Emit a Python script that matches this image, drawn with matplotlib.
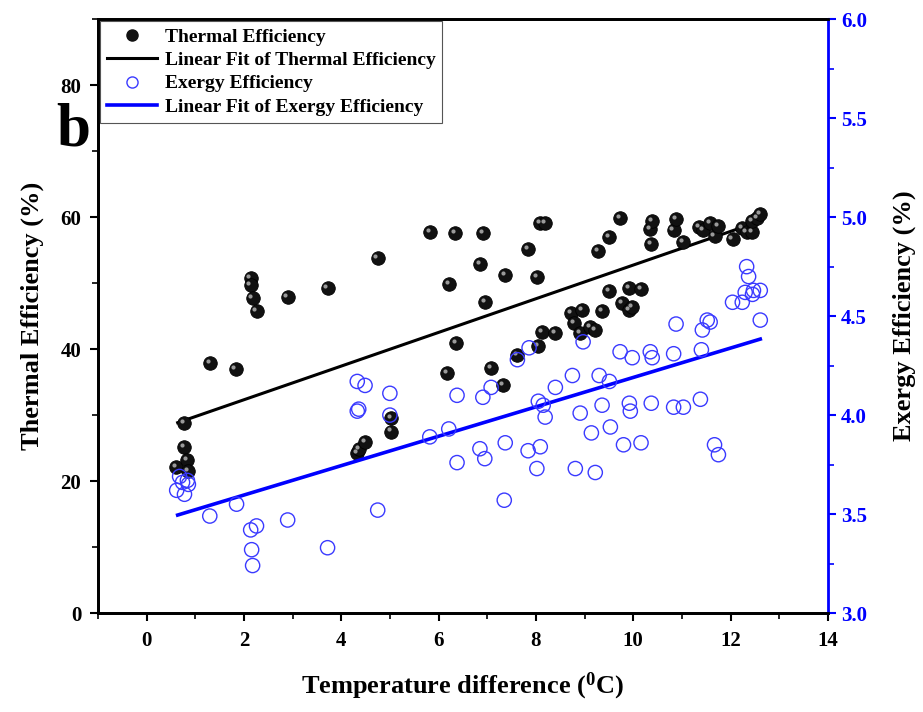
import matplotlib
matplotlib.use("Agg")
import matplotlib.pyplot as plt
from matplotlib.lines import Line2D
from matplotlib import transforms
from matplotlib.ticker import MultipleLocator

plt.rcParams['font.family'] = ['Liberation Serif', 'DejaVu Serif']
plt.rcParams['font.weight'] = 'bold'
plt.rcParams['mathtext.fontset'] = 'custom'
plt.rcParams['mathtext.rm'] = 'Liberation Serif:bold'
plt.rcParams['mathtext.bf'] = 'Liberation Serif:bold'
plt.rcParams['mathtext.default'] = 'bf'

# thermal efficiency (%) vs temperature difference
thermal_dt = [0.61, 0.78, 0.78, 0.84, 0.86, 1.30, 1.83, 2.14, 2.14, 2.18, 2.26, 2.90,
              3.72, 4.33, 4.36, 4.49, 4.75, 5.02, 5.02, 5.82, 6.17, 6.21, 6.34, 6.36,
              6.85, 6.91, 6.95, 7.08, 7.33, 7.37, 7.62, 7.84, 8.02, 8.05, 8.09, 8.13,
              8.19, 8.40, 8.73, 8.79, 8.91, 8.95, 9.12, 9.22, 9.28, 9.36, 9.51, 9.51,
              9.73, 9.77, 9.92, 9.92, 9.98, 10.16, 10.35, 10.37, 10.39, 10.83, 10.88,
              11.03, 11.36, 11.44, 11.58, 11.67, 11.75, 12.04, 12.24, 12.33, 12.45,
              12.45, 12.55, 12.61]
thermal_eff = [22.1, 28.8, 25.2, 23.2, 21.5, 37.9, 37.0, 50.8, 49.7, 47.7, 45.8, 47.9,
               49.2, 24.2, 24.8, 25.9, 53.8, 29.5, 27.5, 57.7, 36.4, 49.8, 57.6, 40.9,
               52.9, 57.6, 47.1, 37.1, 34.6, 51.2, 39.1, 55.2, 50.9, 40.5, 59.1, 42.6,
               59.1, 42.4, 45.5, 43.9, 42.4, 45.9, 43.3, 42.9, 54.8, 45.8, 48.8, 57.0,
               59.8, 47.0, 49.2, 45.9, 46.4, 49.1, 58.2, 55.9, 59.4, 58.0, 59.7,
               56.2, 58.5, 58.0, 59.1, 57.1, 58.6, 56.7, 58.3, 57.7, 57.7,
               59.4, 59.8, 60.5]

# exergy efficiency (%) vs temperature difference
exergy_dt = [0.68, 0.84, 0.74, 0.62, 0.86, 0.78, 1.30, 1.85, 2.14, 2.26, 2.16, 2.18,
             2.90, 3.72, 4.33, 4.49, 4.33, 4.36, 4.75, 5.00, 5.00, 5.82, 6.21, 6.38,
             6.38, 6.85, 6.91, 6.95, 7.08, 7.35, 7.37, 7.62, 7.84, 7.86, 8.02, 8.05,
             8.09, 8.15, 8.19, 8.40, 8.75, 8.81, 8.91, 8.97, 9.14, 9.22, 9.30, 9.36,
             9.51, 9.53, 9.73, 9.80, 9.92, 9.94, 9.98, 10.16, 10.35, 10.37, 10.39,
             10.83, 10.83, 10.88, 11.03, 11.38, 11.40, 11.42, 11.52, 11.58, 11.67,
             11.75, 12.04, 12.24, 12.30, 12.33, 12.37, 12.45, 12.47, 12.61, 12.61]
exergy_eff = [3.69, 3.67, 3.66, 3.62, 3.65, 3.60, 3.49, 3.55, 3.42, 3.44, 3.32, 3.24,
              3.47, 3.33, 4.17, 4.15, 4.02, 4.03, 3.52, 4.11, 4.00, 3.89, 3.93, 3.76,
              4.10, 3.83, 4.09, 3.78, 4.14, 3.57, 3.86, 4.28, 3.82, 4.34, 3.73, 4.07,
              3.84, 4.05, 3.99, 4.14, 4.20, 3.73, 4.01, 4.37, 3.91, 3.71, 4.20, 4.05,
              4.17, 3.94, 4.32, 3.85, 4.06, 4.02, 4.29, 3.86, 4.32, 4.06, 4.29,
              4.31, 4.04, 4.46, 4.04, 4.08, 4.33, 4.43, 4.48, 4.47, 3.85,
              3.80, 4.57, 4.57, 4.62, 4.75, 4.70, 4.61, 4.63, 4.63, 4.48]

# linear fit end points
fit_dt = [0.64, 12.61]
thermal_fit = [28.85, 59.4]
exergy_fit = [3.495, 4.384]

BLUE = "#0000ff"
CIRCLE_BLUE = "#3a3aff"

fig = plt.figure(figsize=(9.23, 7.12), dpi=100)
ax = fig.add_axes([0.106, 0.139, 0.791, 0.834])
ax2 = ax.twinx()

# thermal: black spheres with a small highlight
ax.plot(fit_dt, thermal_fit, color="black", lw=2.2, zorder=2)
ax.scatter(thermal_dt, thermal_eff, s=95, color="#111111", edgecolors="#000000",
           linewidths=0.6, zorder=3)
hl = ax.transData + transforms.ScaledTranslation(-1.6 / 72, 1.6 / 72, fig.dpi_scale_trans)
ax.scatter(thermal_dt, thermal_eff, s=9, color="#9a9a9a", linewidths=0,
           transform=hl, zorder=4)

# exergy: open blue circles
ax2.plot(fit_dt, exergy_fit, color=BLUE, lw=2.6, zorder=2)
ax2.scatter(exergy_dt, exergy_eff, s=105, facecolors="none", edgecolors=CIRCLE_BLUE,
            linewidths=1.0, zorder=3)

ax.set_xlim(-1, 14)
ax.set_ylim(0, 90)
ax2.set_ylim(3.0, 6.0)

ax.xaxis.set_major_locator(MultipleLocator(2))
ax.xaxis.set_minor_locator(MultipleLocator(1))
ax.yaxis.set_major_locator(MultipleLocator(20))
ax.yaxis.set_minor_locator(MultipleLocator(10))
ax2.yaxis.set_major_locator(MultipleLocator(0.5))
ax2.yaxis.set_minor_locator(MultipleLocator(0.25))

ax.tick_params(axis="both", which="major", direction="out", length=6, width=1.5,
               labelsize=15, pad=6)
ax.tick_params(axis="both", which="minor", direction="out", length=4, width=1.2)
ax.tick_params(axis="x", which="major", pad=7)
ax2.tick_params(axis="y", which="major", direction="out", length=6, width=1.5,
                labelsize=15, colors=BLUE)
ax2.tick_params(axis="y", which="minor", direction="out", length=4, width=1.2,
                colors=BLUE)
ax2.yaxis.set_major_formatter(plt.FormatStrFormatter("%.1f"))

for side in ("left", "bottom", "top"):
    ax.spines[side].set_linewidth(2)
    ax2.spines[side].set_linewidth(2)
ax2.spines["right"].set_color(BLUE)
ax2.spines["right"].set_linewidth(2)
ax.spines["right"].set_visible(False)

ax.set_xlabel(r"Temperature difference ($^{0}$C)", fontsize=19, fontweight="bold",
              labelpad=14)
ax.set_ylabel("Thermal Efficiency (%)", fontsize=19, fontweight="bold", labelpad=12)
ax2.set_ylabel("Exergy Efficiency (%)", fontsize=19, fontweight="bold",
               rotation=90, labelpad=18)

fig.text(0.079, 0.817, "b", fontsize=44, fontweight="bold", ha="center", va="center")

handles = [
    Line2D([0], [0], marker="o", ls="none", color="#111111", markersize=8),
    Line2D([0], [0], color="black", lw=2.2),
    Line2D([0], [0], marker="o", ls="none", markerfacecolor="none",
           markeredgecolor=CIRCLE_BLUE, markersize=8),
    Line2D([0], [0], color=BLUE, lw=2.6),
]
labels = ["Thermal Efficiency", "Linear Fit of Thermal Efficiency",
          "Exergy Efficiency", "Linear Fit of Exergy Efficiency"]
leg = ax2.legend(handles, labels, loc="upper left", bbox_to_anchor=(0.0, 1.0),
                 fontsize=14, frameon=True, fancybox=False, framealpha=1,
                 edgecolor="#555555", borderpad=0.35, labelspacing=0.3,
                 handlelength=2.6, handletextpad=0.4, borderaxespad=0.1)
leg.get_frame().set_linewidth(0.8)
for t in leg.get_texts():
    t.set_fontweight("bold")

fig.savefig("out.png", dpi=100)
